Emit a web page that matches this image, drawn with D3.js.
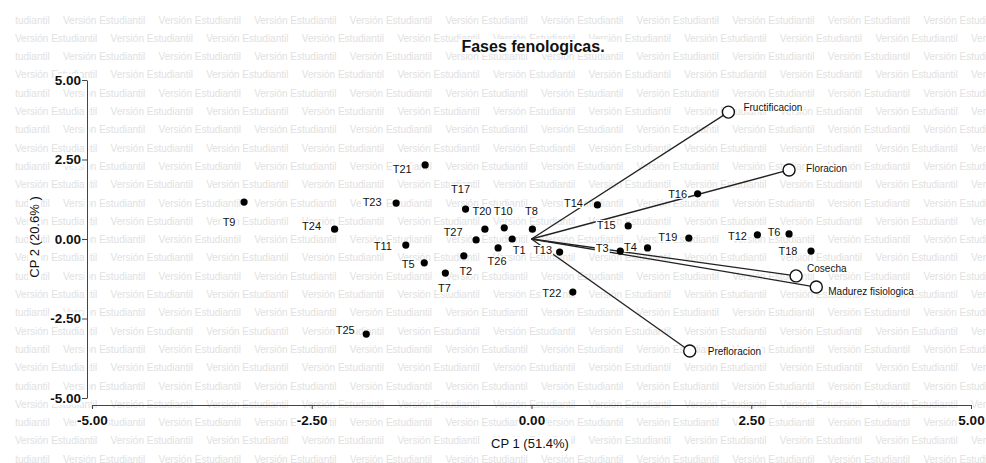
<!doctype html>
<html lang="es">
<head>
<meta charset="utf-8">
<title>Fases fenologicas</title>
<script src="https://d3js.org/d3.v7.min.js"></script>
<style>
  body { margin: 0; background: #fff; }
  svg { display: block; font-family: "Liberation Sans", Arial, sans-serif; }
</style>
</head>
<body>
<script>
var width = 986, height = 463;

// tratamientos (puntos)
var trat = ["T1","T2","T3","T4","T5","T6","T7","T8","T9","T10","T11","T12","T13","T14",
            "T15","T16","T17","T18","T19","T20","T21","T22","T23","T24","T25","T26","T27"];
var cp1 = [-0.22,-0.77,1.01,1.32,-1.22,2.93,-0.98,0.01,-3.27,-0.31,-1.43,2.57,0.32,0.75,
           1.10,1.89,-0.75,3.18,1.79,-0.53,-1.21,0.47,-1.54,-2.24,-1.88,-0.38,-0.63];
var cp2 = [0.00,-0.53,-0.38,-0.28,-0.75,0.16,-1.07,0.31,1.16,0.35,-0.19,0.13,-0.41,1.07,
           0.41,1.42,0.94,-0.38,0.03,0.31,2.33,-1.67,1.13,0.31,-2.99,-0.28,-0.03];

// variables (vectores)
var variables = ["Fructificacion","Floracion","Cosecha","Madurez fisiologica","Prefloracion"];
var varCp1 = [2.24, 2.93, 3.01, 3.24, 1.80];
var varCp2 = [3.99, 2.17, -1.16, -1.51, -3.52];

var tickVals = [-5, -2.5, 0, 2.5, 5];

// posicion de las etiquetas (px, centro de la etiqueta respecto al punto)
var labelOff = {
  T1:[7,11], T2:[2,15], T3:[-18,-3], T4:[-17,-1], T5:[-16,1], T6:[-15,-2], T7:[-1,15],
  T8:[-1,-18], T9:[-15,20], T10:[-1,-17], T11:[-23,1], T12:[-20,1], T13:[-17,-2],
  T14:[-24,-2], T15:[-22,-1], T16:[-20,0], T17:[-5,-20], T18:[-23,0], T19:[-21,-1],
  T20:[-3,-18], T21:[-23,4], T22:[-21,1], T23:[-24,-1], T24:[-23,-3], T25:[-21,-4],
  T26:[-1,13], T27:[-23,-8]
};
var varLabelOff = [[15,-5],[17,-1],[11,-7],[12,4],[18,1]];

var svg = d3.select("body").append("svg")
  .attr("width", width).attr("height", height)
  .style("background", "#fff");

var x = d3.scaleLinear().domain([-5, 5]).range([92, 971]);
var y = d3.scaleLinear().domain([-5, 5]).range([398, 80]);

// marca de agua
svg.append("clipPath").attr("id", "wm").append("rect")
  .attr("x", 15).attr("y", 10).attr("width", width - 15).attr("height", height - 10);
var wm = svg.append("g").attr("clip-path", "url(#wm)")
  .style("font-size", "10px").style("fill", "#e1e1e1");
for (var r = 0; r < 25; r++) {
  var start = (r % 2 == 0) ? -32.6 : 15;
  for (var c = 0; c < 12; c++) {
    wm.append("text")
      .attr("x", start + c * 95.6)
      .attr("y", 20 + r * 18.3 + 3.5)
      .text("Versión Estudiantil");
  }
}

// fondo blanco bajo textos
function addBg(sel, pad) {
  sel.each(function() {
    var b = this.getBBox();
    d3.select(this.parentNode).insert("rect", function() { return this; }.bind(this))
      .attr("x", b.x - pad).attr("y", b.y + 1)
      .attr("width", b.width + 2 * pad).attr("height", b.height - 2)
      .attr("fill", "#fff");
  });
}

// ejes
svg.append("line").attr("x1", 87).attr("x2", 87).attr("y1", 80).attr("y2", 398)
  .attr("stroke", "#fff").attr("stroke-width", 5);

var yAxis = svg.append("g").attr("transform", "translate(87,0)")
  .call(d3.axisLeft(y).tickValues(tickVals).tickSize(5).tickSizeOuter(0).tickPadding(1)
    .tickFormat(function(d) { return d.toFixed(2); }));
var xAxis = svg.append("g").attr("transform", "translate(0,405)")
  .call(d3.axisBottom(x).tickValues(tickVals).tickSize(4).tickSizeOuter(0).tickPadding(6)
    .tickFormat(function(d) { return d.toFixed(2); }));

[yAxis, xAxis].forEach(function(a) {
  a.selectAll("path, line").attr("stroke", "#444");
  a.selectAll("text").style("font-size", "13.5px").style("font-weight", "bold").attr("fill", "#111")
    .style("font-family", "'Liberation Sans', Arial, sans-serif");
  addBg(a.selectAll("text"), 1);
});

// titulos
var title = svg.append("text").attr("x", 533).attr("y", 52)
  .attr("text-anchor", "middle").style("font-size", "16px").style("font-weight", "bold")
  .attr("fill", "#111").text("Fases fenologicas.");
addBg(title, 3);

var xt = svg.append("text").attr("x", 530).attr("y", 448)
  .attr("text-anchor", "middle").style("font-size", "13px").attr("fill", "#111")
  .text("CP 1 (51.4%)");
addBg(xt, 2);

var ytg = svg.append("g").attr("transform", "translate(39,237) rotate(-90)");
var yt = ytg.append("text").attr("text-anchor", "middle").style("font-size", "13px")
  .attr("fill", "#111").text("CP 2 (20.6% )");
addBg(yt, 2);

// vectores
var vecs = svg.append("g");
vecs.selectAll("line").data(variables).enter().append("line")
  .attr("x1", x(0)).attr("y1", y(0))
  .attr("x2", function(d, i) { return x(varCp1[i]); })
  .attr("y2", function(d, i) { return y(varCp2[i]); })
  .attr("stroke", "#222").attr("stroke-width", 1.3);

// etiquetas de tratamientos
var labs = svg.append("g").style("font-size", "11px").attr("fill", "#111");
labs.selectAll("text").data(trat).enter().append("text")
  .attr("text-anchor", "middle")
  .attr("x", function(d, i) { return x(cp1[i]) + labelOff[d][0]; })
  .attr("y", function(d, i) { return y(cp2[i]) + labelOff[d][1] + 4; })
  .text(function(d) { return d; });
addBg(labs.selectAll("text"), 1);

// puntos
svg.append("g").selectAll("circle").data(trat).enter().append("circle")
  .attr("cx", function(d, i) { return x(cp1[i]); })
  .attr("cy", function(d, i) { return y(cp2[i]); })
  .attr("r", 3.6).attr("fill", "#000");

// extremos de vectores
svg.append("g").selectAll("circle").data(variables).enter().append("circle")
  .attr("cx", function(d, i) { return x(varCp1[i]); })
  .attr("cy", function(d, i) { return y(varCp2[i]); })
  .attr("r", 6).attr("fill", "#fff").attr("stroke", "#111").attr("stroke-width", 1.4);

var vlabs = svg.append("g").style("font-size", "10px").attr("fill", "#111");
vlabs.selectAll("text").data(variables).enter().append("text")
  .attr("x", function(d, i) { return x(varCp1[i]) + varLabelOff[i][0]; })
  .attr("y", function(d, i) { return y(varCp2[i]) + varLabelOff[i][1] + 3.5; })
  .text(function(d) { return d; });
addBg(vlabs.selectAll("text"), 1);
</script>
</body>
</html>
